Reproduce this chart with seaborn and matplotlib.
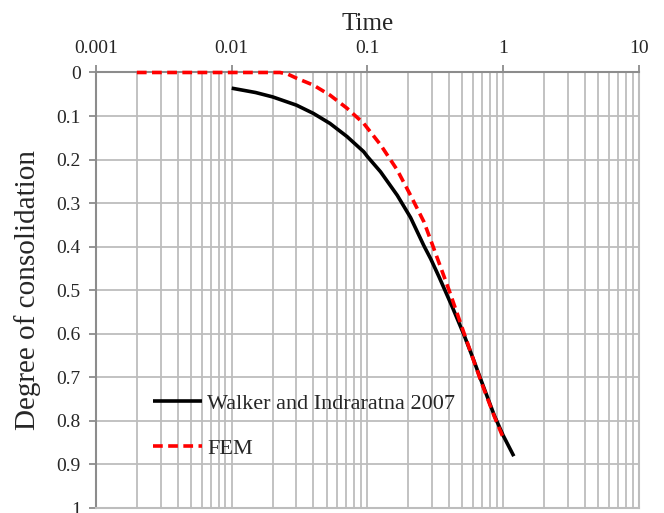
import numpy as np
import pandas as pd
import seaborn as sns
import matplotlib
matplotlib.use("Agg")
import matplotlib.pyplot as plt
from matplotlib.ticker import FixedLocator, NullFormatter, FixedFormatter

# Data
walker_t = [0.01, 0.015, 0.02, 0.03, 0.04, 0.053, 0.0707, 0.094, 0.1, 0.125, 0.166, 0.208,
            0.261, 0.293, 0.337, 0.422, 0.516, 0.6, 0.687, 0.863, 1.0, 1.2]
walker_u = [0.036, 0.046, 0.056, 0.075, 0.094, 0.117, 0.147, 0.182, 0.193, 0.228, 0.282, 0.333,
            0.398, 0.428, 0.469, 0.538, 0.603, 0.656, 0.706, 0.788, 0.833, 0.881]
fem_t = [0.002, 0.005, 0.01, 0.02, 0.0227, 0.026, 0.030, 0.04, 0.053, 0.0707, 0.094, 0.125,
         0.166, 0.208, 0.261, 0.293, 0.34, 0.40, 0.516, 0.6, 0.687, 0.863, 1.0]
fem_u = [0.0, 0.0, 0.0, 0.0, 0.0, 0.004, 0.013, 0.029, 0.052, 0.082, 0.117, 0.166,
         0.224, 0.282, 0.343, 0.385, 0.44, 0.50, 0.599, 0.657, 0.709, 0.79, 0.838]

x_ticks = [0.001, 0.01, 0.1, 1, 10]
x_tick_labels = ["0.001", "0.01", "0.1", "1", "10"]
y_ticks = [0, 0.1, 0.2, 0.3, 0.4, 0.5, 0.6, 0.7, 0.8, 0.9, 1]
y_tick_labels = ["0", "0.1", "0.2", "0.3", "0.4", "0.5", "0.6", "0.7", "0.8", "0.9", "1"]

sns.set_style("white")
plt.rcParams['font.family'] = ['Liberation Serif', 'DejaVu Serif']

df = pd.concat([
    pd.DataFrame({"Time": walker_t, "U": walker_u, "Series": "Walker and Indraratna 2007"}),
    pd.DataFrame({"Time": fem_t, "U": fem_u, "Series": "FEM"}),
])

fig = plt.figure(figsize=(6.64, 5.13), dpi=100)
ax = fig.add_axes([0.1446, 0.0097, 0.962 - 0.1446, 0.8587 - 0.0097])

sns.lineplot(data=df, x="Time", y="U", hue="Series", style="Series",
             palette={"Walker and Indraratna 2007": "black", "FEM": "#ff0000"},
             dashes={"Walker and Indraratna 2007": "", "FEM": (2.7, 1.5)},
             linewidth=2.6, ax=ax, sort=False, estimator=None)
for ln in ax.get_lines():
    ln.set_zorder(5)
    ln.set_clip_on(False)
    ln.set_solid_capstyle("butt")

ax.set_xscale("log")
ax.set_xlim(0.001, 10)
ax.set_ylim(1, 0)

grid_color = "#bdbdbd"
minor = [m * 10.0 ** e for e in range(-3, 1) for m in range(2, 10)]
ax.xaxis.set_major_locator(FixedLocator(x_ticks))
ax.xaxis.set_major_formatter(FixedFormatter(x_tick_labels))
ax.xaxis.set_minor_locator(FixedLocator(minor))
ax.xaxis.set_minor_formatter(NullFormatter())
ax.yaxis.set_major_locator(FixedLocator(y_ticks))
ax.yaxis.set_major_formatter(FixedFormatter(y_tick_labels))

ax.grid(True, which="major", axis="both", color=grid_color, linewidth=1.3)
ax.grid(True, which="minor", axis="x", color=grid_color, linewidth=1.3)

ax.xaxis.tick_top()
ax.xaxis.set_label_position("top")
ax.tick_params(axis="x", which="major", direction="out", length=5, width=1.3,
               color="#8c8c8c", labelsize=14, pad=6)
ax.tick_params(axis="x", which="minor", length=0)
ax.tick_params(axis="y", which="major", direction="out", length=5, width=1.3,
               color="#8c8c8c", labelsize=14, pad=6, left=True)

for side, sp in ax.spines.items():
    sp.set_color("#8c8c8c")
    sp.set_linewidth(1.5)
ax.spines["right"].set_color(grid_color)
ax.spines["bottom"].set_color(grid_color)

ax.set_xlabel("Time", fontsize=18, labelpad=7)
ax.set_ylabel("Degree of consolidation", fontsize=21, labelpad=11)

leg = ax.legend(loc="upper left", bbox_to_anchor=(0.088, 0.283), frameon=False,
                fontsize=16, handlelength=2.2, handletextpad=0.25,
                labelspacing=1.1, title=None, borderaxespad=0)
for line in leg.get_lines():
    line.set_linewidth(2.6)

fig.savefig("out.png", dpi=100)
